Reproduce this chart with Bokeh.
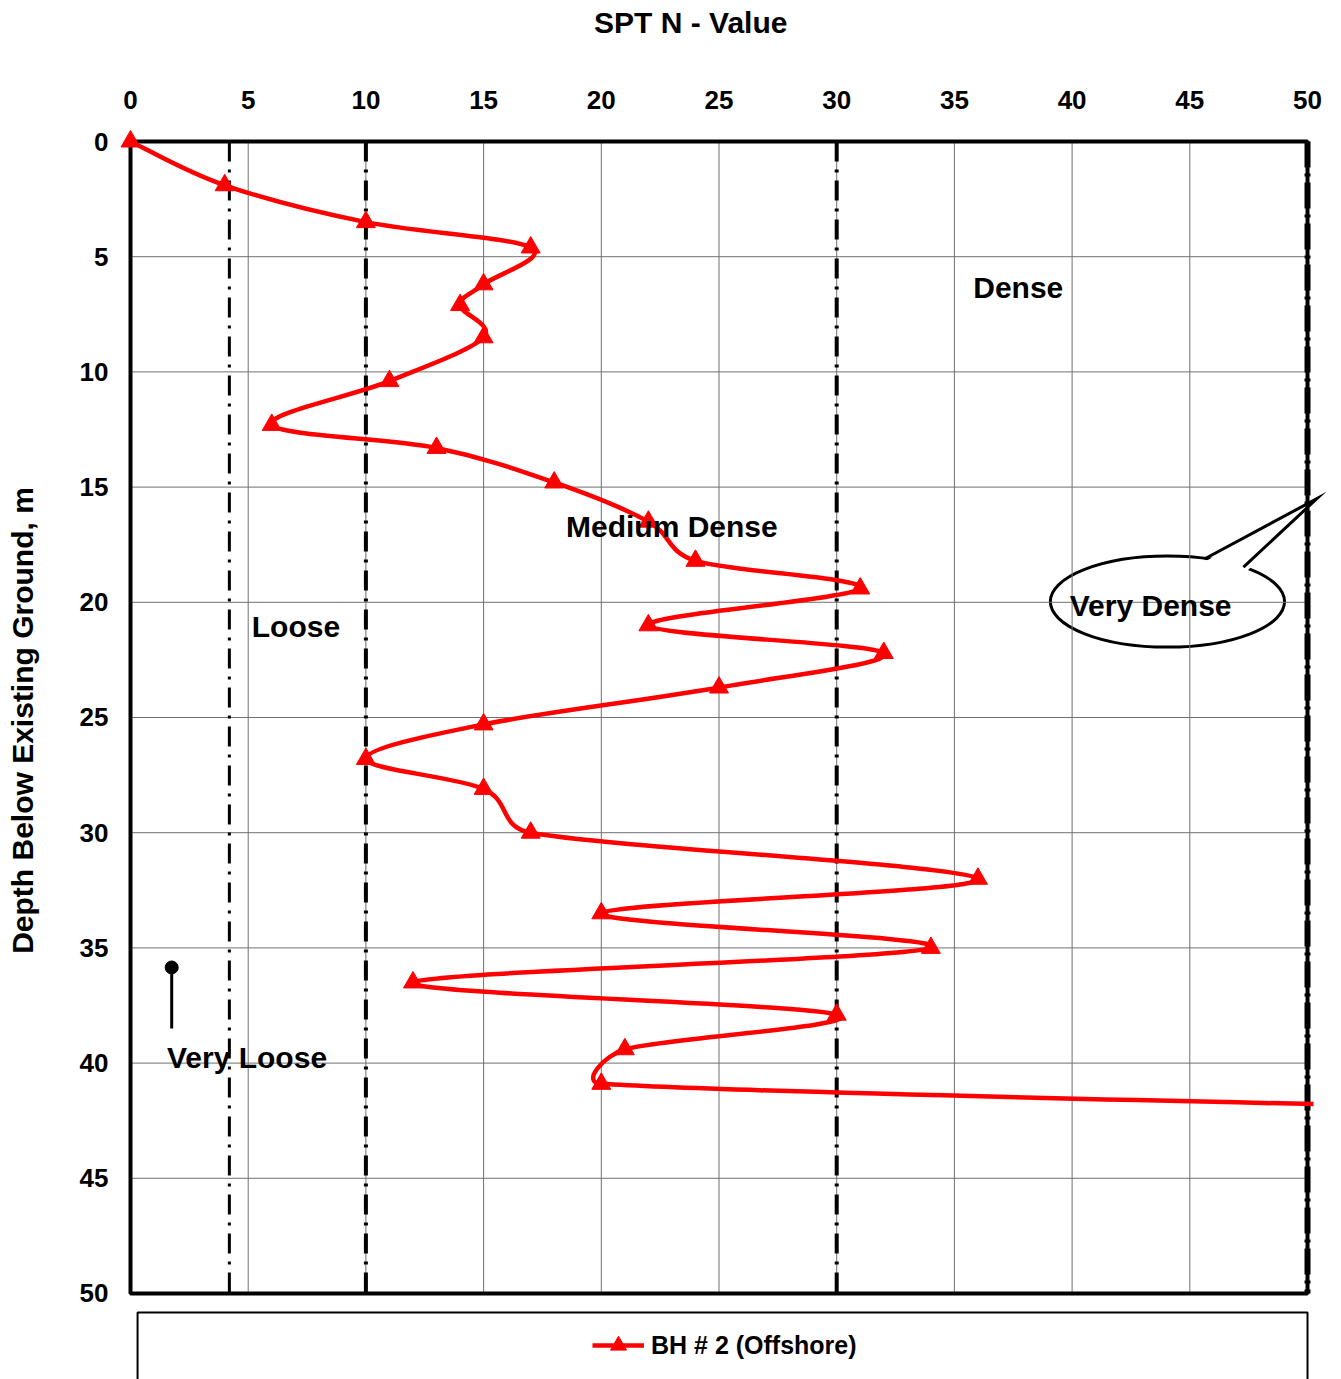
import math

from bokeh.plotting import figure
from bokeh.models import Range1d, Legend, LegendItem
from bokeh.embed import file_html
from bokeh.resources import INLINE
from bokeh.core.properties import value

# SPT profile for borehole BH # 2 (Offshore)
depth_m = [0.0, 1.9, 3.5, 4.6, 6.2, 7.1, 8.5, 10.4, 12.3, 13.3, 14.8, 16.5, 18.2, 19.4,
           21.0, 22.2, 23.7, 25.3, 26.8, 28.1, 30.0, 32.0, 33.5, 35.0, 36.5, 37.9,
           39.4, 40.9, 42.0]
spt_n = [0, 4, 10, 17, 15, 14, 15, 11, 6, 13, 18, 22, 24, 31,
         22, 32, 25, 15, 10, 15, 17, 36, 20, 34, 12, 30,
         21, 20, 60]

x_ticks = [0, 5, 10, 15, 20, 25, 30, 35, 40, 45, 50]
y_ticks = [0, 5, 10, 15, 20, 25, 30, 35, 40, 45, 50]
x_tick_labels = [str(t) for t in x_ticks]
y_tick_labels = [str(t) for t in y_ticks]

# consistency class boundaries (N values)
loose_limit = 4.2
medium_limits = [10, 30]
dense_limit = 50

zone_labels = ["Dense", "Medium Dense", "Loose", "Very Loose", "Very Dense"]
zone_label_x = [35.8, 18.5, 5.15, 1.55, 39.9]
zone_label_y = [6.35, 16.7, 21.05, 39.75, 20.15]

series_name = "BH # 2 (Offshore)"

FONT = "Liberation Sans"
RED = "#ff0000"
N_MAX, D_MAX = 50, 50

# the frame fills the whole canvas; the plot area is the 0-50 x 0-50 box inside it
p = figure(width=1341, height=1379,
           x_range=Range1d(-5.5225, 51.444), y_range=Range1d(53.733, -6.12),
           x_axis_type=None, y_axis_type=None, output_backend="svg",
           toolbar_location=None, min_border=0)
p.outline_line_color = None
p.xgrid.visible = False
p.ygrid.visible = False

# "Very Dense" speech-bubble body (opening for the pointer is blanked out)
p.ellipse(x=[44.05], y=[19.97], width=[9.95], height=[3.95], fill_color=None,
          line_color="black", line_width=3)
p.patch(x=[45.5, 50.4, 47.4], y=[18.32, 15.5, 18.68], fill_color="white",
        line_color=None)

# gridlines inside the plot area
inner = x_ticks[1:-1]
p.segment(x0=inner, y0=[0] * len(inner), x1=inner, y1=[D_MAX] * len(inner),
          line_color="#707070", line_width=1)
inner_y = y_ticks[1:-1]
p.segment(x0=[0] * len(inner_y), y0=inner_y, x1=[N_MAX] * len(inner_y), y1=inner_y,
          line_color="#707070", line_width=1)

# class boundary lines
p.segment(x0=[loose_limit], y0=[0], x1=[loose_limit], y1=[D_MAX],
          line_color="black", line_width=3, line_dash="20 8 3 8")
p.segment(x0=medium_limits, y0=[0, 0], x1=medium_limits, y1=[D_MAX, D_MAX],
          line_color="black", line_width=4, line_dash="20 8 3 8")
p.segment(x0=[dense_limit], y0=[0], x1=[dense_limit], y1=[D_MAX],
          line_color="black", line_width=6, line_dash="26 6 3 6")

# plot area border
p.quad(left=[0], right=[N_MAX], top=[0], bottom=[D_MAX], fill_color=None,
       line_color="black", line_width=4)

# smoothed profile: cubic Bezier segments with spreadsheet-style tension
n = len(spt_n)


def pt(i):
    i = max(0, min(n - 1, i))
    return spt_n[i], depth_m[i]


def dist(a, b):
    return math.hypot(a[0] - b[0], a[1] - b[1])


bx0, by0, bx1, by1, cx0, cy0, cx1, cy1 = ([] for _ in range(8))
for i in range(n - 1):
    a, b, c, d = pt(i - 1), pt(i), pt(i + 1), pt(i + 2)
    d02, d12, d13 = dist(a, c), dist(b, c), dist(b, d)
    f0 = 1 / 6 if d02 / 6 < d12 / 2 else d12 / d02 / 2
    f1 = 1 / 6 if d13 / 6 < d12 / 2 else d12 / d13 / 2
    bx0.append(b[0]); by0.append(b[1])
    bx1.append(c[0]); by1.append(c[1])
    cx0.append(b[0] + (c[0] - a[0]) * f0); cy0.append(b[1] + (c[1] - a[1]) * f0)
    cx1.append(c[0] - (d[0] - b[0]) * f1); cy1.append(c[1] - (d[1] - b[1]) * f1)

p.bezier(x0=bx0, y0=by0, x1=bx1, y1=by1, cx0=cx0, cy0=cy0, cx1=cx1, cy1=cy1,
         line_color=RED, line_width=4.5, line_cap="round")
p.scatter(spt_n, depth_m, marker="triangle", size=19, fill_color=RED,
          line_color=RED)

# values beyond N = 50 are cut at the edge of the plot area
p.quad(left=[50.255], right=[52], top=[-0.5], bottom=[51], fill_color="white",
       line_color=None)

# pointer of the "Very Dense" bubble
p.multi_line(xs=[[45.62, 50.4, 47.28]], ys=[[18.12, 15.5, 18.47]],
             line_color="black", line_width=3, line_join="miter")

# pin marker for "Very Loose"
p.segment(x0=[1.75], y0=[35.85], x1=[1.75], y1=[38.5], line_color="black",
          line_width=3)
p.scatter(x=[1.75], y=[35.85], size=13, marker="circle", fill_color="black",
          line_color="black")

p.text(x=zone_label_x, y=zone_label_y, text=zone_labels, text_font=value(FONT),
       text_font_size="30px", text_font_style="bold", text_align="left",
       text_baseline="middle", text_color="black")

# axis tick labels: N along the top, depth down the left side
p.text(x=x_ticks, y=[-1.78] * len(x_ticks), text=x_tick_labels, text_font=value(FONT),
       text_font_size="26px", text_font_style="bold", text_align="center",
       text_baseline="middle", text_color="black")
p.text(x=[-0.94] * len(y_ticks), y=y_ticks, text=y_tick_labels, text_font=value(FONT),
       text_font_size="26px", text_font_style="bold", text_align="right",
       text_baseline="middle", text_color="black")

# axis titles
p.text(x=[23.8], y=[-5.17], text=["SPT N - Value"], text_font=value(FONT),
       text_font_size="30px", text_font_style="bold", text_align="center",
       text_baseline="middle", text_color="black")
p.text(x=[-4.59], y=[25.13], text=["Depth Below Existing Ground, m"],
       angle=math.pi / 2, text_font=value(FONT), text_font_size="30px",
       text_font_style="bold", text_align="center", text_baseline="middle",
       text_color="black")

# legend box under the plot area
p.quad(left=[0.3], right=[N_MAX], top=[50.83], bottom=[56], fill_color=None,
       line_color="black", line_width=2)

# legend swatch renderers (kept outside the visible area)
r_line = p.line(x=[60, 61], y=[60, 60], line_color=RED, line_width=4.5)
r_mark = p.scatter(x=[60.5], y=[60], marker="triangle", size=19, fill_color=RED,
                   line_color=RED)
legend = Legend(items=[LegendItem(label=series_name, renderers=[r_line, r_mark])],
                location=(592, 14), border_line_color=None, background_fill_alpha=0,
                label_text_font=FONT, label_text_font_size="25px",
                label_text_font_style="bold", label_text_color="black",
                glyph_width=52, glyph_height=40, label_standoff=7, padding=0, margin=0)
p.add_layout(legend)

open("out.html", "w").write(file_html(p, INLINE))
